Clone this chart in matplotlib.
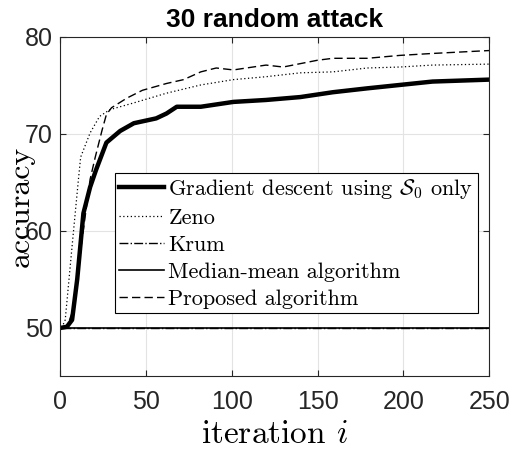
import numpy as np
import matplotlib.pyplot as plt

plt.rcParams['mathtext.fontset'] = 'cm'
plt.rcParams['font.family'] = ['Liberation Sans', 'DejaVu Sans']

# values
gd_x = [1, 4, 7, 10, 13.6, 17.5, 21, 27, 35, 43, 56, 62, 68, 82, 101, 120, 140, 159, 179, 198, 217, 250]
gd_y = [50, 50.1, 50.8, 55, 61.8, 64.5, 66.3, 69.1, 70.3, 71.1, 71.6, 72.1, 72.8, 72.8, 73.3, 73.5, 73.8, 74.3, 74.7, 75.05, 75.4, 75.6]

zeno_x = [1, 3, 7, 10.7, 12, 17.5, 23, 29, 43, 62, 82, 101, 120, 140, 159, 179, 198, 217, 250]
zeno_y = [50, 50.8, 58.4, 65.3, 67.6, 70.1, 71.8, 72.5, 73.2, 74.2, 75.05, 75.6, 75.9, 76.3, 76.4, 76.8, 76.9, 77.1, 77.2]

prop_x = [1, 4, 8, 12, 17.5, 20.5, 24.5, 27, 30, 39, 48, 62, 72, 82, 91, 101, 120, 130, 150, 159, 179, 198, 217, 250]
prop_y = [50, 50.1, 52, 58, 65.3, 67.6, 70.4, 72, 72.7, 73.7, 74.5, 75.2, 75.6, 76.4, 76.8, 76.6, 77.1, 76.9, 77.6, 77.8, 77.8, 78.1, 78.3, 78.6]

krum_x = [1, 250]
krum_y = [50, 50]
med_x = [1, 250]
med_y = [50, 50]

fig = plt.figure(figsize=(5.09, 4.51), dpi=100)
ax = fig.add_axes([0.118, 0.166, 0.843, 0.752])

ax.plot(gd_x, gd_y, color='k', lw=3.2, label=r'Gradient descent using $\mathcal{S}_0$ only')
ax.plot(zeno_x, zeno_y, color='k', lw=0.9, ls=(0, (1, 2)), label='Zeno')
ax.plot(krum_x, krum_y, color='k', lw=1.0, ls='-.', label='Krum')
ax.plot(med_x, med_y, color='k', lw=1.2, ls='-', label='Median-mean algorithm')
ax.plot(prop_x, prop_y, color='k', lw=1.0, ls=(0, (6, 3)), label='Proposed algorithm')

ax.set_xlim(0, 250)
ax.set_ylim(45, 80)
ax.set_xticks([0, 50, 100, 150, 200, 250])
ax.set_yticks([50, 60, 70, 80])
ax.grid(True, color='#e3e3e3', lw=0.8)
ax.set_axisbelow(True)
ax.tick_params(direction='in', top=True, right=True, labelsize=18, colors='#262626', length=4)
ax.tick_params(axis='x', pad=10)
ax.tick_params(axis='y', pad=5)
for s in ax.spines.values():
    s.set_color('#262626')

ax.set_title('30 random attack', fontsize=19, fontweight='bold', pad=7)
ax.set_xlabel(r'iteration $i$', fontsize=24, family='cmr10', labelpad=4)
ax.set_ylabel('accuracy', fontsize=23, family='cmr10', labelpad=-7)

leg = ax.legend(loc='upper left', bbox_to_anchor=(0.128, 0.6), prop={'family': 'cmr10', 'size': 16},
                handlelength=2.0, handletextpad=0.2, borderpad=0.2, labelspacing=0.33,
                borderaxespad=0, fancybox=False, framealpha=1, edgecolor='k')
leg.get_frame().set_linewidth(0.8)

fig.savefig('out.png', dpi=100)
